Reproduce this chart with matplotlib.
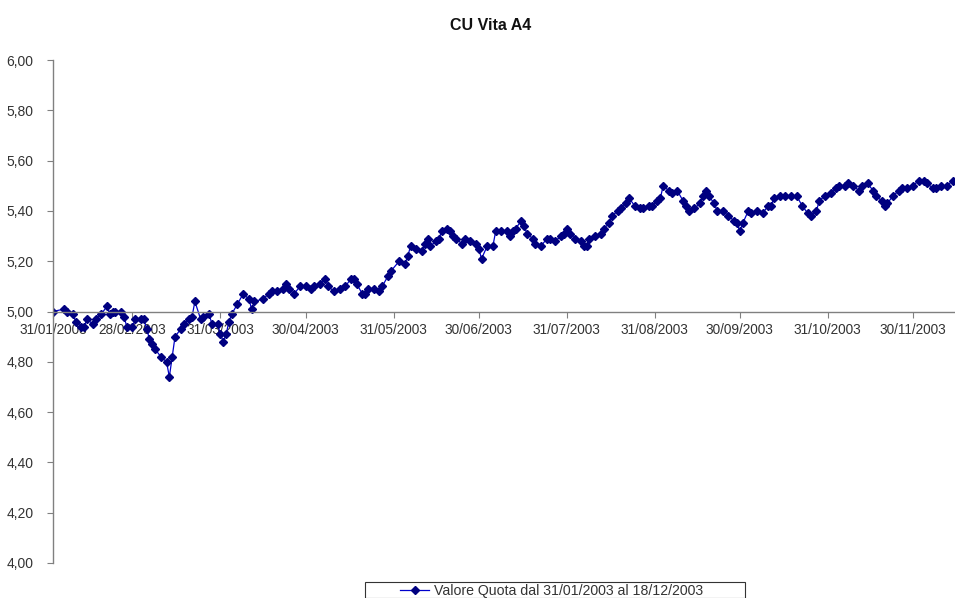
import pandas as pd
import matplotlib
matplotlib.use("Agg")
import matplotlib.pyplot as plt
import matplotlib.dates as mdates
from matplotlib.patches import Rectangle

# giorni dal 31/01/2003, valore quota
giorni = [0, 4, 5, 7, 8, 10, 11, 12, 14, 15, 17, 19, 20, 21, 22, 24, 25, 26, 28, 29,
          31, 32, 33, 34, 35, 36, 38, 40, 41, 42, 43, 45, 46, 48, 49, 50, 52, 53, 55, 56,
          58, 59, 60, 61, 62, 63, 65, 67, 69, 70, 71, 74, 76, 77, 79, 81, 82, 83, 85, 87,
          89, 91, 92, 94, 96, 97, 99, 101, 103, 105, 106, 107, 109, 110, 111, 113, 115, 116, 118, 119,
          122, 124, 125, 126, 128, 130, 131, 132, 133, 135, 136, 137, 139, 140, 141, 142, 144, 145, 147, 149,
          150, 151, 153, 155, 156, 158, 160, 161, 162, 163, 165, 166, 167, 169, 170, 172, 174, 175, 177, 179,
          180, 181, 182, 184, 186, 187, 188, 189, 191, 193, 194, 196, 197, 199, 200, 202, 203, 205, 207, 208,
          210, 211, 213, 214, 215, 217, 218, 220, 222, 223, 224, 226, 228, 229, 230, 231, 233, 234, 236, 238,
          240, 241, 242, 243, 245, 246, 248, 250, 252, 253, 254, 256, 258, 260, 262, 264, 266, 267, 269, 270,
          272, 274, 276, 277, 279, 280, 282, 284, 285, 287, 289, 290, 292, 293, 294, 296, 298, 299, 301, 303,
          305, 307, 308, 310, 311, 313, 315, 317]
valori = [5.00, 5.01, 5.00, 4.99, 4.96, 4.94, 4.94, 4.97, 4.95, 4.97, 4.99, 5.02, 4.99, 5.00, 5.00, 5.00, 4.98, 4.94, 4.94, 4.97,
          4.97, 4.97, 4.93, 4.89, 4.87, 4.85, 4.82, 4.80, 4.74, 4.82, 4.90, 4.93, 4.95, 4.97, 4.98, 5.04, 4.97, 4.98, 4.99, 4.95,
          4.95, 4.91, 4.88, 4.91, 4.96, 4.99, 5.03, 5.07, 5.05, 5.01, 5.04, 5.05, 5.07, 5.08, 5.08, 5.09, 5.11, 5.09, 5.07, 5.10,
          5.10, 5.09, 5.10, 5.11, 5.13, 5.10, 5.08, 5.09, 5.10, 5.13, 5.13, 5.11, 5.07, 5.07, 5.09, 5.09, 5.08, 5.10, 5.14, 5.16,
          5.20, 5.19, 5.22, 5.26, 5.25, 5.24, 5.27, 5.29, 5.26, 5.28, 5.29, 5.32, 5.33, 5.32, 5.30, 5.29, 5.27, 5.29, 5.28, 5.27,
          5.25, 5.21, 5.26, 5.26, 5.32, 5.32, 5.32, 5.30, 5.32, 5.33, 5.36, 5.34, 5.31, 5.29, 5.27, 5.26, 5.29, 5.29, 5.28, 5.30,
          5.31, 5.33, 5.31, 5.29, 5.28, 5.26, 5.26, 5.29, 5.30, 5.31, 5.33, 5.35, 5.38, 5.40, 5.41, 5.43, 5.45, 5.42, 5.41, 5.41,
          5.42, 5.42, 5.44, 5.45, 5.50, 5.48, 5.47, 5.48, 5.44, 5.42, 5.40, 5.41, 5.43, 5.46, 5.48, 5.46, 5.43, 5.40, 5.40, 5.38,
          5.36, 5.35, 5.32, 5.35, 5.40, 5.39, 5.40, 5.39, 5.42, 5.42, 5.45, 5.46, 5.46, 5.46, 5.46, 5.42, 5.39, 5.38, 5.40, 5.44,
          5.46, 5.47, 5.49, 5.50, 5.50, 5.51, 5.50, 5.48, 5.50, 5.51, 5.48, 5.46, 5.44, 5.42, 5.43, 5.46, 5.48, 5.49, 5.49, 5.50,
          5.52, 5.52, 5.51, 5.49, 5.49, 5.50, 5.50, 5.52]

titolo = "CU Vita A4"
etichetta = "Valore Quota dal 31/01/2003 al 18/12/2003"
inizio = pd.Timestamp("2003-01-31")
fine = pd.Timestamp("2003-12-18")

plt.rcParams["font.family"] = ["Liberation Sans", "DejaVu Sans"]

date = inizio + pd.to_timedelta(giorni, unit="D")

fig = plt.figure(figsize=(9.55, 5.98), dpi=100)
ax = fig.add_axes([53 / 955, 35 / 598, 911 / 955, 503 / 598])

ax.plot(date, valori, color="#0000cc", linewidth=0.9, marker="D", markersize=4,
        markerfacecolor="#000080", markeredgecolor="#000080", label=etichetta)

ax.set_xlim(inizio, fine)
ax.set_ylim(4.0, 6.0)

ax.spines["top"].set_visible(False)
ax.spines["right"].set_visible(False)
ax.spines["bottom"].set_position(("data", 5.0))
for s in ("left", "bottom"):
    ax.spines[s].set_color("#808080")
    ax.spines[s].set_linewidth(1.0)

mesi = pd.date_range("2003-01-31", periods=11, freq="ME")
ax.set_xticks(mesi)
ax.xaxis.set_major_formatter(mdates.DateFormatter("%d/%m/%Y"))
ax.set_yticks([4.0 + 0.2 * i for i in range(11)])
ax.set_yticklabels([("%.2f" % (4.0 + 0.2 * i)).replace(".", ",") for i in range(11)])

ax.tick_params(axis="x", direction="out", length=4, color="#808080", labelsize=9.8,
               labelcolor="#333333", pad=4)
ax.tick_params(axis="y", direction="out", length=4, color="#808080", labelsize=10,
               labelcolor="#333333", pad=10)

fig.text(491 / 955, 1 - 25 / 598, titolo, ha="center", va="center",
         fontsize=11.5, fontweight="bold", color="#111111")

# riquadro legenda (tagliato in basso come nell'originale)
fig.patches.append(Rectangle((365 / 955, 0), 380 / 955, 16 / 598, transform=fig.transFigure,
                             fill=False, edgecolor="#333333", linewidth=0.8))
h, l = ax.get_legend_handles_labels()
fig.legend(h, l, loc="center", bbox_to_anchor=(552 / 955, 1 - 591 / 598), frameon=False,
           fontsize=10.2, handlelength=2.0, handletextpad=0.4, borderpad=0,
           labelcolor="#333333")

fig.savefig("out.png", dpi=100)
